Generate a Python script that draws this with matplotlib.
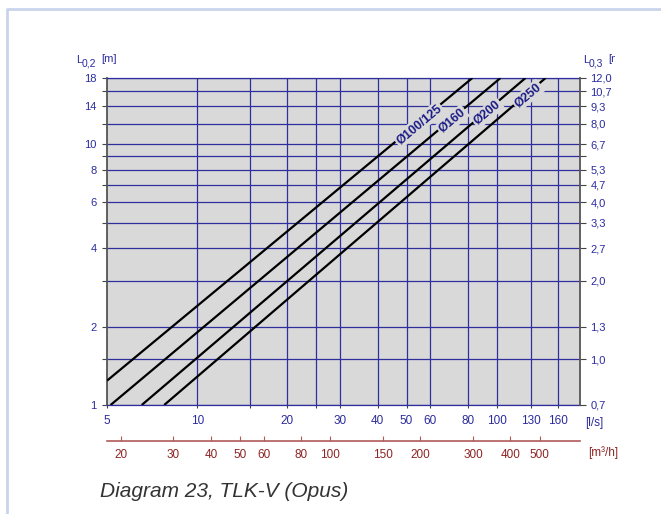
import numpy as np
import matplotlib
matplotlib.use("Agg")
import matplotlib.pyplot as plt
from matplotlib.ticker import FixedLocator, FixedFormatter, NullFormatter
from matplotlib.lines import Line2D
from matplotlib.transforms import Bbox, TransformedBbox

plt.rcParams["font.family"] = ["Liberation Sans", "DejaVu Sans"]

# flow axis (l/s) and secondary (m3/h)
flow_ls_ticks = [5, 10, 20, 30, 40, 50, 60, 80, 100, 130, 160]
flow_ls_grid = [10, 15, 20, 25, 30, 40, 50, 60, 80, 100, 130, 160]
flow_m3h_ticks = [20, 30, 40, 50, 60, 80, 100, 150, 200, 300, 400, 500]

# length axes
l02_grid = [1, 1.5, 2, 3, 4, 5, 6, 7, 8, 9, 10, 12, 14, 16, 18]
l02_labels = ["1", "", "2", "", "4", "", "6", "", "8", "", "10", "", "14", "", "18"]
l03_labels = ["0,7", "1,0", "1,3", "2,0", "2,7", "3,3", "4,0", "4,7", "5,3", "",
              "6,7", "8,0", "9,3", "10,7", "12,0"]

# duct curves (straight on log-log)
ducts = ["Ø100/125", "Ø160", "Ø200", "Ø250"]
duct_flow = [[5.0, 82.9], [5.14, 102.9], [6.53, 124.7], [7.76, 145.5]]
duct_len = [[1.24, 18.0], [1.0, 18.0], [1.0, 18.0], [1.0, 18.0]]
label_flow = [55, 71, 93, 127]

BLUE = "#2b2b9e"
GRID = "#2e2e9c"
RED_LINE = "#b05a5a"
RED_TXT = "#8e2424"
W, H = 661, 514


def fx(px):
    return px / W


def fy(py):
    return 1 - py / H


def axis_title(x0, sub, unit, clip_right=None):
    parts = [
        fig.text(fx(x0), fy(63), "L", color=BLUE, fontsize=8, va="baseline"),
        fig.text(fx(x0 + 6), fy(66), sub, color=BLUE, fontsize=7.5, va="baseline"),
        fig.text(fx(x0 + 25.5), fy(62.5), unit, color=BLUE, fontsize=8, va="baseline"),
    ]
    if clip_right is not None:
        box = TransformedBbox(Bbox([[0, 0], [fx(clip_right), 1]]), fig.transFigure)
        for t in parts:
            t.set_clip_box(box)
            t.set_clip_on(True)


fig = plt.figure(figsize=(W / 100, H / 100), dpi=100)
ax = fig.add_axes([fx(107), fy(405), 473 / W, 327 / H])
ax.set_xscale("log")
ax.set_yscale("log")
ax.set_xlim(5, 189.6)
ax.set_ylim(1, 18)
ax.set_facecolor("#d9d9d9")

for v in flow_ls_grid:
    ax.axvline(v, color=GRID, lw=0.9, zorder=1)
for v in l02_grid:
    ax.axhline(v, color=GRID, lw=0.9, zorder=1)

for name, xs, ys, lx in zip(ducts, duct_flow, duct_len, label_flow):
    ax.plot(xs, ys, color="black", lw=1.6, zorder=3, solid_capstyle="butt")
    ly = 10 ** np.interp(np.log10(lx), np.log10(xs), np.log10(ys))
    ax.text(lx, ly * 0.98, name, rotation=40, rotation_mode="anchor",
            ha="center", va="center", fontsize=9, fontweight="bold", color="#1c1c88",
            zorder=4, bbox=dict(facecolor="#d9d9d9", edgecolor="none", pad=1.2))

ax.xaxis.set_major_locator(FixedLocator(flow_ls_ticks))
ax.xaxis.set_major_formatter(FixedFormatter([str(v) for v in flow_ls_ticks]))
ax.xaxis.set_minor_locator(FixedLocator([15, 25]))
ax.xaxis.set_minor_formatter(NullFormatter())
ax.tick_params(axis="x", which="both", direction="out", length=2.5, width=0.8,
               color="#444444", labelcolor=BLUE, labelsize=8.5, pad=5)

ax.yaxis.set_major_locator(FixedLocator(l02_grid))
ax.yaxis.set_major_formatter(FixedFormatter(l02_labels))
ax.yaxis.set_minor_locator(FixedLocator([]))
ax.tick_params(axis="y", which="both", direction="out", length=3.6, width=0.8,
               color="#444444", labelcolor=BLUE, labelsize=8, pad=4)

for s in ["top", "bottom"]:
    ax.spines[s].set_color(GRID)
    ax.spines[s].set_linewidth(0.9)
ax.spines["left"].set_color("#555555")
ax.spines["left"].set_linewidth(1.3)
ax.spines["right"].set_visible(False)

ax2 = ax.twinx()
ax2.set_yscale("log")
ax2.set_ylim(1, 18)
ax2.yaxis.set_major_locator(FixedLocator(l02_grid))
ax2.yaxis.set_major_formatter(FixedFormatter(l03_labels))
ax2.yaxis.set_minor_locator(FixedLocator([]))
ax2.tick_params(axis="y", which="both", direction="out", length=4.5, width=0.8,
                color="#444444", labelcolor=BLUE, labelsize=8, pad=3)
for s in ["top", "bottom", "left"]:
    ax2.spines[s].set_visible(False)
ax2.spines["right"].set_color("#555555")
ax2.spines["right"].set_linewidth(1.3)

sec = ax.secondary_xaxis(-36 / 327, functions=(lambda v: v * 3.6, lambda v: v / 3.6))
sec.xaxis.set_major_locator(FixedLocator(flow_m3h_ticks))
sec.xaxis.set_major_formatter(FixedFormatter([str(v) for v in flow_m3h_ticks]))
sec.xaxis.set_minor_locator(FixedLocator([]))
sec.tick_params(axis="x", which="both", direction="in", length=3.5, width=0.8,
                color=RED_LINE, labelcolor=RED_TXT, labelsize=8.5, pad=6)
sec.spines["bottom"].set_color(RED_LINE)
sec.spines["bottom"].set_linewidth(1.2)

fig.text(fx(585), fy(423), "[l/s]", color=BLUE, fontsize=8.5, va="center", ha="left")
fig.text(fx(588), fy(453), "[m³/h]", color=RED_TXT, fontsize=8.5, va="center", ha="left")

axis_title(76, "0,2", "[m]")
axis_title(583, "0,3", "[m]", clip_right=614.5)

fig.text(fx(100), fy(497), "Diagram 23, TLK-V (Opus)", fontsize=15, style="italic",
         color="#333333", va="baseline", ha="left")

fig.add_artist(Line2D([fx(6.5), fx(6.5), 1], [0, fy(8.5), fy(8.5)],
                      transform=fig.transFigure, color="#c9d4ec", lw=2))

fig.savefig("out.png", dpi=100)
